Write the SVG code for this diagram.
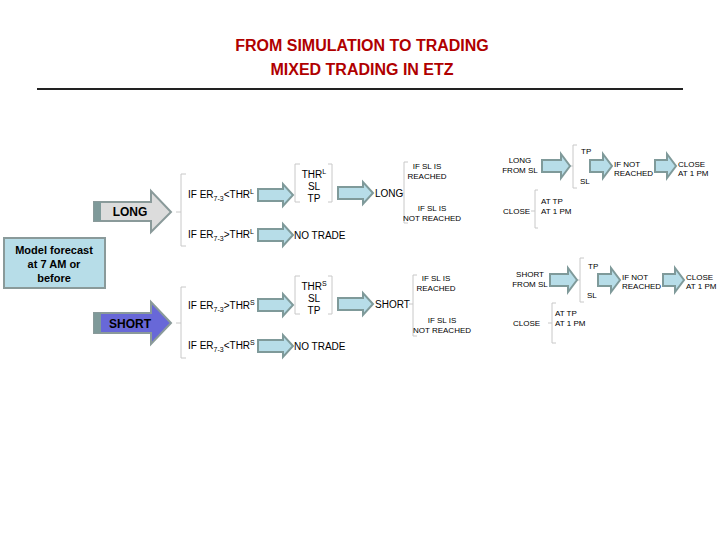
<svg xmlns="http://www.w3.org/2000/svg" width="720" height="540" viewBox="0 0 720 540">
<style>
text{font-family:"Liberation Sans",Arial,sans-serif;fill:#000}
.t{font-size:10px}.s{font-size:8px}
.a{fill:#b7dde8;stroke:#7f9a9a;stroke-width:2}
.b{fill:none;stroke:#c8c8c8;stroke-width:1}
</style>
<rect width="720" height="540" fill="#fff"/>
<g id="title">
<text x="362" y="51" text-anchor="middle" style="font-size:16px;font-weight:bold;fill:#b00000">FROM SIMULATION TO TRADING</text>
<text x="362" y="75" text-anchor="middle" style="font-size:16px;font-weight:bold;fill:#b00000">MIXED TRADING IN ETZ</text>
<line x1="37" y1="89" x2="683" y2="89" stroke="#222" stroke-width="2"/>
</g>
<g id="model"><rect x="4" y="238" width="101" height="50" fill="#b7dde8" stroke="#8a9a9a" stroke-width="2"/>
<text x="54" y="254" text-anchor="middle" style="font-size:11px;font-weight:bold">Model forecast</text>
<text x="54" y="268" text-anchor="middle" style="font-size:11px;font-weight:bold">at 7 AM or</text>
<text x="54" y="282" text-anchor="middle" style="font-size:11px;font-weight:bold">before</text></g>
<g id="long-arrow"><path d="M94,202H151V191L171,212L151,232V221H94Z" fill="#dcdcdc" stroke="#8a9a9a" stroke-width="2"/><rect x="94" y="202" width="7" height="19" fill="#7f9a9a"/>
<text x="130" y="216" text-anchor="middle" style="font-size:12px;font-weight:bold">LONG</text></g>
<g id="short-arrow"><path d="M94,313H151V302L171,323L151,344V333H94Z" fill="#6868d8" stroke="#8a9a9a" stroke-width="2"/><rect x="94" y="313" width="7" height="20" fill="#7f9a9a"/>
<text x="130" y="328" text-anchor="middle" style="font-size:12px;font-weight:bold">SHORT</text></g>
<g id="connectors">
<path class="b" d="M186,174H181V246H186M176,212H181"/>
<path class="b" d="M186,287H181V358H186M176,323H181"/>
<path class="b" d="M300,164H295V202H300M328,164H332V202H328"/>
<path class="b" d="M300,276H295V314H300M328,276H332V314H328"/>
<path class="b" d="M408,162H404V223H408M400,193H404"/>
<path class="b" d="M417,275H413V336H417M409,304H413"/>
<path class="b" d="M577,145H573V188H577M569,166H573"/>
<path class="b" d="M584,258H580V302H584M576,280H580"/>
<path class="b" d="M538,190H535V228H538M531,211H535"/>
<path class="b" d="M556,303H552V343H556M548,323H552"/>
<path class="a" d="M258,189H283V184L293,195L283,206V201H258Z"/>
<path class="a" d="M258,229H283V224L293,235L283,246V241H258Z"/>
<path class="a" d="M258,299H283V294L293,305L283,316V311H258Z"/>
<path class="a" d="M258,340H283V335L293,346L283,357V352H258Z"/>
<path class="a" d="M338,187H363V182L373,193L363,204V199H338Z"/>
<path class="a" d="M338,298H363V293L373,304L363,315V310H338Z"/>
<path class="a" d="M542,160H561V154L570,166L561,178V172H542Z"/>
<path class="a" d="M590,160H603V154L612,166L603,178V172H590Z"/>
<path class="a" d="M655,160H667V154L676,166L667,178V172H655Z"/>
<path class="a" d="M550,274H568V268L577,280L568,292V286H550Z"/>
<path class="a" d="M598,274H611V268L620,280L611,292V286H598Z"/>
<path class="a" d="M663,274H675V268L684,280L675,292V286H663Z"/>
</g>
<g id="cond-long"><text class="t" x="188" y="198">IF ER<tspan style="font-size:7px" dy="3">7-3</tspan><tspan dy="-3">&lt;THR</tspan><tspan style="font-size:7px" dy="-4">L</tspan></text>
<text class="t" x="188" y="238">IF ER<tspan style="font-size:7px" dy="3">7-3</tspan><tspan dy="-3">&gt;THR</tspan><tspan style="font-size:7px" dy="-4">L</tspan></text>
<text class="t" x="294" y="239">NO TRADE</text></g>
<g id="params-long"><text class="t" x="314" y="178" text-anchor="middle">THR<tspan style="font-size:7px" dy="-4">L</tspan></text>
<text class="t" x="314" y="190" text-anchor="middle">SL</text><text class="t" x="314" y="202" text-anchor="middle">TP</text>
<text class="t" x="375" y="197">LONG</text>
<text class="s" x="427" y="169" text-anchor="middle">IF SL IS</text><text class="s" x="427" y="179" text-anchor="middle">REACHED</text>
<text class="s" x="432" y="211" text-anchor="middle">IF SL IS</text><text class="s" x="432" y="221" text-anchor="middle">NOT REACHED</text></g>
<g id="cond-short"><text class="t" x="188" y="309">IF ER<tspan style="font-size:7px" dy="3">7-3</tspan><tspan dy="-3">&gt;THR</tspan><tspan style="font-size:7px" dy="-4">S</tspan></text>
<text class="t" x="188" y="349">IF ER<tspan style="font-size:7px" dy="3">7-3</tspan><tspan dy="-3">&lt;THR</tspan><tspan style="font-size:7px" dy="-4">S</tspan></text>
<text class="t" x="294" y="350">NO TRADE</text></g>
<g id="params-short"><text class="t" x="314" y="290" text-anchor="middle">THR<tspan style="font-size:7px" dy="-4">S</tspan></text>
<text class="t" x="314" y="302" text-anchor="middle">SL</text><text class="t" x="314" y="314" text-anchor="middle">TP</text>
<text class="t" x="375" y="308">SHORT</text>
<text class="s" x="436" y="281" text-anchor="middle">IF SL IS</text><text class="s" x="436" y="291" text-anchor="middle">REACHED</text>
<text class="s" x="442" y="323" text-anchor="middle">IF SL IS</text><text class="s" x="442" y="333" text-anchor="middle">NOT REACHED</text></g>
<g id="long-sl"><text class="s" x="520" y="163" text-anchor="middle">LONG</text><text class="s" x="520" y="173" text-anchor="middle">FROM SL</text>
<text class="s" x="581" y="154">TP</text><text class="s" x="580" y="184">SL</text>
<text class="s" x="614" y="167">IF NOT</text><text class="s" x="614" y="176">REACHED</text>
<text class="s" x="678" y="167">CLOSE</text><text class="s" x="678" y="176">AT 1 PM</text>
<text class="s" x="503" y="214">CLOSE</text><text class="s" x="541" y="204">AT TP</text><text class="s" x="541" y="214">AT 1 PM</text></g>
<g id="short-sl"><text class="s" x="530" y="277" text-anchor="middle">SHORT</text><text class="s" x="530" y="287" text-anchor="middle">FROM SL</text>
<text class="s" x="588" y="269">TP</text><text class="s" x="587" y="298">SL</text>
<text class="s" x="622" y="280">IF NOT</text><text class="s" x="622" y="289">REACHED</text>
<text class="s" x="686" y="280">CLOSE</text><text class="s" x="686" y="289">AT 1 PM</text>
<text class="s" x="513" y="326">CLOSE</text><text class="s" x="555" y="316">AT TP</text><text class="s" x="555" y="326">AT 1 PM</text></g>
</svg>
